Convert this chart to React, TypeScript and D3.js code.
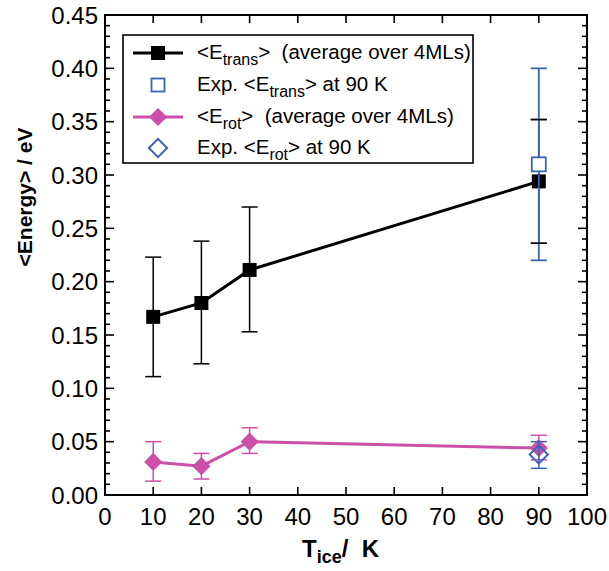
import React, { useEffect, useRef } from "react";
import { select, scaleLinear, line, range, symbol, symbolSquare } from "d3";

// temperatures (K)
const temps = [10, 20, 30, 90];
// <E_trans> average over 4MLs
const transMean = [0.167, 0.18, 0.211, 0.294];
const transLow = [0.111, 0.123, 0.153, 0.236];
const transHigh = [0.223, 0.238, 0.27, 0.352];
// <E_rot> average over 4MLs
const rotMean = [0.031, 0.027, 0.05, 0.044];
const rotLow = [0.013, 0.015, 0.039, 0.033];
const rotHigh = [0.05, 0.039, 0.063, 0.056];
// experiment at 90 K
const expT = 90;
const expTrans = { mean: 0.31, low: 0.22, high: 0.4 };
const expRot = { mean: 0.038, low: 0.025, high: 0.05 };

const xTicks = [0, 10, 20, 30, 40, 50, 60, 70, 80, 90, 100];
const yTicks = [0, 0.05, 0.1, 0.15, 0.2, 0.25, 0.3, 0.35, 0.4, 0.45];

const BLACK = "#000";
const PINK = "#cc4fa8";
const BLUE = "#3b63b9";
const FONT = "Liberation Sans, Arial, Helvetica, sans-serif";

const App = () => {
  const ref = useRef<SVGSVGElement>(null);

  useEffect(() => {
    document.body.style.margin = "0";
    const svg = select(ref.current);
    svg.selectAll("*").remove();

    const left = 105, right = 587, top = 15, bottom = 495;
    const x = scaleLinear().domain([0, 100]).range([left, right]);
    const y = scaleLinear().domain([0, 0.45]).range([bottom, top]);

    const g = svg.append("g");

    // ticks, all inside
    const ticks = g.append("g").attr("stroke", BLACK).attr("stroke-width", 1.6);
    xTicks.slice(1, -1).forEach((t) => {
      ticks.append("line").attr("x1", x(t)).attr("x2", x(t)).attr("y1", bottom).attr("y2", bottom - 8);
      ticks.append("line").attr("x1", x(t)).attr("x2", x(t)).attr("y1", top).attr("y2", top + 8);
    });
    range(1, 45).forEach((i) => {
      const v = i / 100;
      const len = i % 5 === 0 ? 9 : 5;
      ticks.append("line").attr("x1", left).attr("x2", left + len).attr("y1", y(v)).attr("y2", y(v));
      ticks.append("line").attr("x1", right).attr("x2", right - len).attr("y1", y(v)).attr("y2", y(v));
    });

    // frame
    g.append("rect")
      .attr("x", left).attr("y", top)
      .attr("width", right - left).attr("height", bottom - top)
      .attr("fill", "none").attr("stroke", BLACK).attr("stroke-width", 2);

    // tick labels
    xTicks.forEach((t) => {
      g.append("text")
        .attr("x", x(t)).attr("y", 525)
        .attr("text-anchor", "middle")
        .attr("font-family", FONT).attr("font-size", 24)
        .text(t);
    });
    yTicks.forEach((t) => {
      g.append("text")
        .attr("x", 98).attr("y", y(t) + 8.5)
        .attr("text-anchor", "end")
        .attr("font-family", FONT).attr("font-size", 24)
        .text(t.toFixed(2));
    });

    // axis titles
    const xt = g.append("text")
      .attr("x", 302).attr("y", 557)
      .attr("font-family", FONT).attr("font-size", 24).attr("font-weight", "bold")
      .attr("xml:space", "preserve");
    xt.append("tspan").text("T");
    xt.append("tspan").attr("font-size", 18).attr("dy", 6).text("ice");
    xt.append("tspan").attr("dy", -6).text("/  K");

    g.append("text")
      .attr("transform", "translate(32,197) rotate(-90)")
      .attr("text-anchor", "middle")
      .attr("font-family", FONT).attr("font-size", 21).attr("font-weight", "bold")
      .text("<Energy> / eV");

    const sq = symbol().type(symbolSquare).size(196);
    // diamond = square turned 45 degrees
    const dm = symbol().type(symbolSquare).size(165);

    const errBar = (parent, cx, lo, hi, color) => {
      parent.append("line").attr("x1", cx).attr("x2", cx).attr("y1", y(lo)).attr("y2", y(hi))
        .attr("stroke", color).attr("stroke-width", 1.5);
      [lo, hi].forEach((v) => {
        parent.append("line").attr("x1", cx - 8).attr("x2", cx + 8).attr("y1", y(v)).attr("y2", y(v))
          .attr("stroke", color).attr("stroke-width", 1.5);
      });
    };

    const plot = g.append("g");

    // rot series
    temps.forEach((t, i) => errBar(plot, x(t), rotLow[i], rotHigh[i], PINK));
    plot.append("path")
      .attr("d", line<number>().x((d, i) => x(temps[i])).y((d) => y(d))(rotMean))
      .attr("fill", "none").attr("stroke", PINK).attr("stroke-width", 3);

    // trans series
    temps.forEach((t, i) => errBar(plot, x(t), transLow[i], transHigh[i], BLACK));
    plot.append("path")
      .attr("d", line<number>().x((d, i) => x(temps[i])).y((d) => y(d))(transMean))
      .attr("fill", "none").attr("stroke", BLACK).attr("stroke-width", 3);
    transMean.forEach((v, i) => {
      plot.append("path").attr("d", sq()).attr("transform", `translate(${x(temps[i])},${y(v)})`).attr("fill", BLACK);
    });

    // experiment trans
    plot.append("line").attr("x1", x(expT)).attr("x2", x(expT))
      .attr("y1", y(expTrans.low)).attr("y2", y(expTrans.high))
      .attr("stroke", BLUE).attr("stroke-width", 1.8);
    [expTrans.low, expTrans.high].forEach((v) => {
      plot.append("line").attr("x1", x(expT) - 8).attr("x2", x(expT) + 8).attr("y1", y(v)).attr("y2", y(v))
        .attr("stroke", BLUE).attr("stroke-width", 1.8);
    });
    [transLow[3], transHigh[3]].forEach((v) => {
      plot.append("line").attr("x1", x(expT) - 8).attr("x2", x(expT) + 8).attr("y1", y(v)).attr("y2", y(v))
        .attr("stroke", BLACK).attr("stroke-width", 1.5);
    });
    plot.append("rect")
      .attr("x", x(expT) - 7).attr("y", y(expTrans.mean) - 7)
      .attr("width", 14).attr("height", 14)
      .attr("fill", "#fff").attr("stroke", BLUE).attr("stroke-width", 1.8);

    rotMean.forEach((v, i) => {
      plot.append("path").attr("d", dm())
        .attr("transform", `translate(${x(temps[i])},${y(v)}) rotate(45)`).attr("fill", PINK);
    });

    // experiment rot
    errBar(plot, x(expT), expRot.low, expRot.high, BLUE);
    plot.append("path").attr("d", dm())
      .attr("transform", `translate(${x(expT)},${y(expRot.mean)}) rotate(45)`)
      .attr("fill", "none").attr("stroke", BLUE).attr("stroke-width", 2);

    // legend
    const lg = g.append("g");
    lg.append("rect").attr("x", 123).attr("y", 35).attr("width", 350).attr("height", 128)
      .attr("fill", "#fff").attr("stroke", BLACK).attr("stroke-width", 1.6);
    const rows = [53, 85, 117, 148];
    const sx = 158;
    lg.append("line").attr("x1", 133).attr("x2", 183).attr("y1", rows[0]).attr("y2", rows[0])
      .attr("stroke", BLACK).attr("stroke-width", 3);
    lg.append("path").attr("d", sq()).attr("transform", `translate(${sx},${rows[0]})`).attr("fill", BLACK);
    lg.append("rect").attr("x", sx - 6.5).attr("y", rows[1] - 6.5).attr("width", 13).attr("height", 13)
      .attr("fill", "#fff").attr("stroke", BLUE).attr("stroke-width", 1.8);
    lg.append("line").attr("x1", 133).attr("x2", 183).attr("y1", rows[2]).attr("y2", rows[2])
      .attr("stroke", PINK).attr("stroke-width", 3);
    lg.append("path").attr("d", dm()).attr("transform", `translate(${sx},${rows[2]}) rotate(45)`).attr("fill", PINK);
    lg.append("path").attr("d", dm()).attr("transform", `translate(${sx},${rows[3]}) rotate(45)`)
      .attr("fill", "none").attr("stroke", BLUE).attr("stroke-width", 2);

    const labels = [
      ["<E", "trans", ">  (average over 4MLs)"],
      ["Exp. <E", "trans", "> at 90 K"],
      ["<E", "rot", ">  (average over 4MLs)"],
      ["Exp. <E", "rot", "> at 90 K"],
    ];
    labels.forEach(([a, sub, b], i) => {
      const t = lg.append("text")
        .attr("x", 197).attr("y", rows[i] + 6)
        .attr("font-family", FONT).attr("font-size", 20.5)
        .attr("xml:space", "preserve");
      t.append("tspan").text(a);
      t.append("tspan").attr("font-size", 16).attr("dy", 6).text(sub);
      t.append("tspan").attr("dy", -6).text(b);
    });
  });

  return <svg ref={ref} width="609" height="571" style={{ display: "block", background: "#fff" }}></svg>;
};

export default App;
